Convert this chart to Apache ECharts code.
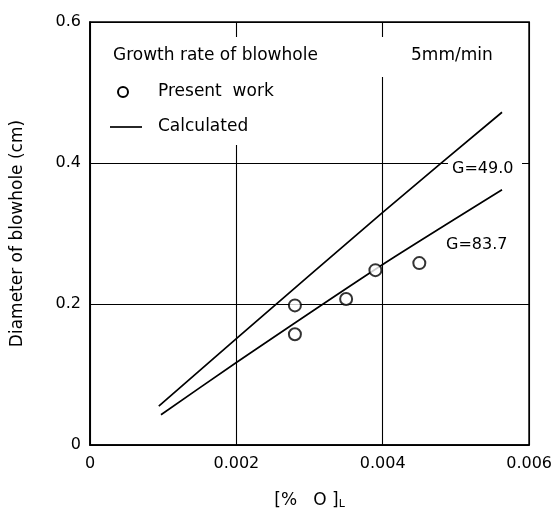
<!DOCTYPE html>
<html><head><meta charset="utf-8">
<script src="https://cdn.jsdelivr.net/npm/echarts@6/dist/echarts.min.js"></script>
<style>html,body{margin:0;padding:0;background:#fff}#c{width:555px;height:515px}</style>
</head><body><div id="c"></div>
<script>
// ---- data ----
const xTicks = [0, 0.002, 0.004, 0.006];
const yTicks = [0, 0.2, 0.4, 0.6];
const presentX = [0.0028, 0.0028, 0.0035, 0.0039, 0.0045];
const presentY = [0.198, 0.157, 0.207, 0.248, 0.258];
const g49X = [0.00094, 0.002, 0.004, 0.00563];
const g49Y = [0.055, 0.151, 0.33, 0.472];
const g837X = [0.00097, 0.002, 0.004, 0.00563];
const g837Y = [0.043, 0.117, 0.256, 0.362];
const labels = {
  title: 'Growth rate of blowhole', rate: '5mm/min',
  present: 'Present  work', calc: 'Calculated',
  g49: 'G=49.0', g837: 'G=83.7',
  yName: 'Diameter of blowhole (cm)'
};

const FONT = 'DejaVu Sans';
const INK = '#000';
const zip = (a, b) => a.map((v, i) => [v, b[i]]);
const tf = (size) => size + 'px "DejaVu Sans"';

const chart = echarts.init(document.getElementById('c'), null, {renderer: 'canvas'});
chart.setOption({
  animation: false,
  backgroundColor: '#fff',
  grid: {left: 90, top: 22, right: 23, bottom: 66, show: true, borderColor: INK, borderWidth: 1.6, backgroundColor: 'transparent'},
  xAxis: {
    type: 'value', min: xTicks[0], max: xTicks[xTicks.length - 1], interval: xTicks[1] - xTicks[0],
    axisLine: {show: true, lineStyle: {color: INK, width: 1.6}},
    axisTick: {show: false},
    splitLine: {show: true, lineStyle: {color: INK, width: 1.1}},
    axisLabel: {color: INK, fontFamily: FONT, fontSize: 16, margin: 11,
      formatter: v => { const i = xTicks.findIndex(t => Math.abs(t - v) < 1e-9); return i === 0 ? '0' : xTicks[i].toFixed(3); }},
    name: '{b|[%   O ]}{s|L}', nameLocation: 'middle', nameGap: 46,
    nameTextStyle: {rich: {
      b: {fontFamily: FONT, fontSize: 17, color: INK},
      s: {fontFamily: FONT, fontSize: 11, color: INK, verticalAlign: 'bottom', padding: [8, 0, 0, 0]}
    }}
  },
  yAxis: {
    type: 'value', min: yTicks[0], max: yTicks[yTicks.length - 1], interval: yTicks[1] - yTicks[0],
    axisLine: {show: true, lineStyle: {color: INK, width: 1.6}},
    axisTick: {show: false},
    splitLine: {show: true, lineStyle: {color: INK, width: 1.1}},
    axisLabel: {color: INK, fontFamily: FONT, fontSize: 16, margin: 9,
      formatter: v => { const i = yTicks.findIndex(t => Math.abs(t - v) < 1e-9); return i === 0 ? '0' : yTicks[i].toFixed(1); }},
    name: labels.yName, nameLocation: 'middle', nameGap: 64,
    nameTextStyle: {color: INK, fontFamily: FONT, fontSize: 17}
  },
  series: [
    {type: 'line', name: labels.g49, data: zip(g49X, g49Y), smooth: 0.2, symbol: 'none',
      lineStyle: {color: INK, width: 1.7}, z: 3},
    {type: 'line', name: labels.g837, data: zip(g837X, g837Y), smooth: 0.2, symbol: 'none',
      lineStyle: {color: INK, width: 1.7}, z: 3},
    {type: 'scatter', name: labels.present, data: zip(presentX, presentY), symbol: 'circle', symbolSize: 12,
      itemStyle: {color: '#fff', borderColor: INK, borderWidth: 2}, z: 4}
  ],
  graphic: [
    {type: 'rect', z: 1, shape: {x: 104, y: 37, width: 420, height: 40}, style: {fill: '#fff'}},
    {type: 'rect', z: 1, shape: {x: 104, y: 77, width: 220, height: 68}, style: {fill: '#fff'}},
    {type: 'text', z: 2, x: 113, y: 56, style: {text: labels.title, font: tf(17), fill: INK, verticalAlign: 'middle'}},
    {type: 'text', z: 2, x: 411, y: 56, style: {text: labels.rate, font: tf(17), fill: INK, verticalAlign: 'middle'}},
    {type: 'circle', z: 2, shape: {cx: 123, cy: 92, r: 5}, style: {fill: '#fff', stroke: INK, lineWidth: 2}},
    {type: 'text', z: 2, x: 158, y: 92, style: {text: labels.present, font: tf(17), fill: INK, verticalAlign: 'middle'}},
    {type: 'line', z: 2, shape: {x1: 110, y1: 127, x2: 142, y2: 127}, style: {stroke: INK, lineWidth: 1.7}},
    {type: 'text', z: 2, x: 158, y: 127, style: {text: labels.calc, font: tf(17), fill: INK, verticalAlign: 'middle'}},
    {type: 'rect', z: 1, shape: {x: 448, y: 158, width: 74, height: 22}, style: {fill: '#fff'}},
    {type: 'text', z: 2, x: 452, y: 169, style: {text: labels.g49, font: tf(16), fill: INK, verticalAlign: 'middle'}},
    {type: 'text', z: 2, x: 446, y: 245, style: {text: labels.g837, font: tf(16), fill: INK, verticalAlign: 'middle'}}
  ]
});
</script></body></html>
